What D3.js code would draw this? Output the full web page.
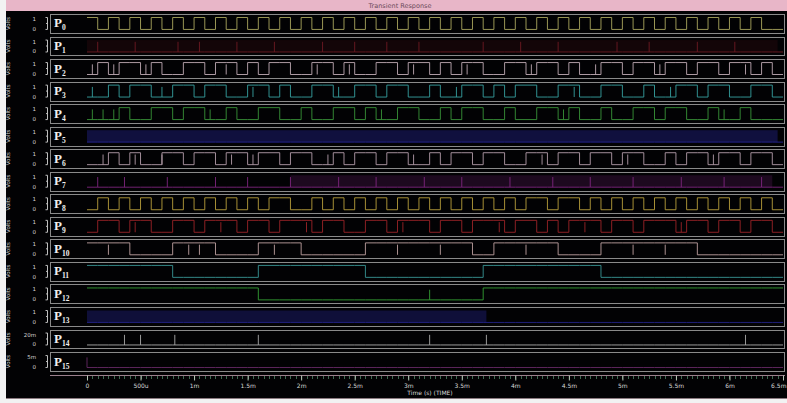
<!DOCTYPE html>
<html>
<head>
<meta charset="utf-8">
<script src="https://cdn.jsdelivr.net/npm/d3@7"></script>
<style>
html, body { margin: 0; padding: 0; background: #f2f2f2; }
svg { display: block; }
</style>
</head>
<body>
<svg id="plot" width="787" height="403"></svg>
<script>

// Time axis, in ms.
const TIME_TICKS = [0, 0.5, 1, 1.5, 2, 2.5, 3, 3.5, 4, 4.5, 5, 5.5, 6, 6.5];
const TICK_LABELS = ["0", "500u", "1m", "1.5m", "2m", "2.5m", "3m", "3.5m", "4m", "4.5m", "5m", "5.5m", "6m", "6.5m"];

// Traces.
const NAMES = ["P0", "P1", "P2", "P3", "P4", "P5", "P6", "P7",
               "P8", "P9", "P10", "P11", "P12", "P13", "P14", "P15"];
const COLORS = ["#aaa65e", "#6e1a22", "#bfaab4", "#36a0a0", "#389438", "#262696", "#b49caa", "#7e267e",
                "#b89e3c", "#9c2428", "#bea0a0", "#389696", "#34a034", "#22228a", "#aaaaaa", "#642864"];
const Y_TOP = ["1", "1", "1", "1", "1", "1", "1", "1", "1", "1", "1", "1", "1", "1", "20m", "5m"];
const Y_BOT = ["0", "0", "0", "0", "0", "0", "0", "0", "0", "0", "0", "0", "0", "0", "0", "0"];

// Logic level per 0.1 ms slot (grouped by 0.5 ms).
const p0  = "10101 01010 10101 01010 10101 01010 10101 01010 10101 01010 10101 01010 10100";
const p1  = "00000 00000 00000 00000 00000 00000 00000 00000 00000 00000 00000 00000 00000";
const p2  = "01011 01001 10110 10110 01101 00110 11010 11001 10110 10011 01101 10110 11010";
const p3  = "00101 10011 01100 11010 01100 11011 00100 11010 11001 10011 00100 11011 00110";
const p4  = "00010 01101 10010 01100 10011 01001 10010 11001 00110 10010 01101 10010 01000";
const p5  = "00000 00000 00000 00000 00000 00000 00000 00000 00000 00000 00000 00000 00000";
const p6  = "00101 00110 11011 01101 10010 11011 00101 10110 01101 10110 11001 01101 10110";
const p7  = "00000 00000 00000 00000 00000 00000 00000 00000 00000 00000 00000 00000 00000";
const p8  = "01010 10101 01010 10110 01010 10101 01010 10101 01101 10101 01010 10101 01010";
const p9  = "01101 10011 01110 11011 10110 01101 11011 01110 11010 11101 10111 01101 10110";
const p10 = "11110 00011 11000 01111 00000 01111 11111 10011 11110 00011 11111 11000 00000";
const p11 = "11111 11100 00000 01111 11111 10000 00000 00111 11111 11100 00000 00000 00000";
const p12 = "11111 11111 11111 10000 00000 00000 00000 00111 11111 11111 11111 11111 11111";
const p13 = "00000 00000 00000 00000 00000 00000 00000 00000 00000 00000 00000 00000 00000";
const p14 = "00000 00000 00000 00000 00000 00000 00000 00000 00000 00000 00000 00000 00000";
const p15 = "00000 00000 00000 00000 00000 00000 00000 00000 00000 00000 00000 00000 00000";
const LEVELS = [p0, p1, p2, p3, p4, p5, p6, p7, p8, p9, p10, p11, p12, p13, p14, p15];

// Narrow glitches, in ms.
const p1Spikes  = [0.1, 0.45, 0.85, 1.05, 1.4, 1.75, 2.2, 2.5, 2.8, 3.1, 3.7, 4.05, 4.4, 4.95, 5.25, 5.7, 6.05];
const p2Spikes  = [0.05, 0.25, 0.55, 1.3, 2.15, 2.45, 3.05, 3.55, 4.15, 4.75, 5.35, 6.15];
const p3Spikes  = [0.05, 0.7, 1.55, 2.35, 3.45, 4.55, 5.45];
const p4Spikes  = [0.05, 0.15, 0.25, 1.15, 2.75, 4.45, 5.95];
const p6Spikes  = [0.15, 0.45, 0.7, 1.35, 1.55, 2.25, 3.05, 4.25, 5.05, 5.85];
const p7Spikes  = [0.1, 0.35, 0.75, 1.2, 1.5, 1.9, 2.35, 2.7, 3.15, 3.5, 3.95, 4.35, 4.7, 5.1, 5.55, 5.95, 6.3];
const p9Spikes  = [0.45, 1.25, 2.05, 2.95, 3.85, 4.65, 5.55];
const p10Spikes = [0.2, 0.95, 1.05, 1.75, 2.9, 3.3, 4.1, 5.1, 5.4];
const p12Spikes = [3.2];
const p14Spikes = [0.35, 0.5, 0.82, 1.6, 3.2, 3.73, 6.15];
const p15Spikes = [0.0];
const SPIKES = [[], p1Spikes, p2Spikes, p3Spikes, p4Spikes, [], p6Spikes, p7Spikes,
                [], p9Spikes, p10Spikes, [], p12Spikes, [], p14Spikes, p15Spikes];

// Spans where the trace toggles too fast to resolve, in ms.
const p1Band  = [[0, 6.45]];
const p5Band  = [[0, 6.45]];
const p7Band  = [[1.9, 6.4]];
const p13Band = [[0, 3.73]];
const BANDS = [[], p1Band, [], [], [], p5Band, [], p7Band,
               [], [], [], [], [], p13Band, [], []];
const BAND_OPACITY = [0, 0.16, 0, 0, 0, 0.4, 0, 0.22, 0, 0, 0, 0, 0, 0.4, 0, 0];

//----------------------------------------------------------------------------//

const svg = d3.select("#plot");
const W = 787, H = 403;

// Page frame: white edge, pink title bar, black plot field.
svg.append("rect").attr("width", W).attr("height", H).attr("fill", "#f2f2f2");
svg.append("rect").attr("x", 6).attr("y", 0).attr("width", W - 6).attr("height", 11).attr("fill", "#e8b6c8");
svg.append("rect").attr("x", 6).attr("y", 11).attr("width", W - 6).attr("height", 387).attr("fill", "#020204");
svg.append("line").attr("x1", 6).attr("x2", W).attr("y1", 398.5).attr("y2", 398.5).attr("stroke", "#8a7a80");

svg.append("text")
    .text("Transient Response")
    .attr("x", 400).attr("y", 8)
    .attr("text-anchor", "middle")
    .attr("font-family", "DejaVu Sans")
    .attr("font-size", 6.5)
    .attr("fill", "#6a4a5a");

// Scales.
const x = d3.scaleLinear().domain([0, 6.5]).range([87, 783]);
const row = d3.scaleBand().domain(NAMES).range([14, 371]).paddingInner(0.16);
const bw = row.bandwidth();
const level = d3.scaleLinear().domain([0, 1]).range([bw - 3.5, 3.5]);

const line = d3.line()
    .x(d => x(d[0]))
    .y(d => level(d[1]))
    .curve(d3.curveStepAfter);

function toPoints(str) {
    const bits = str.replace(/ /g, "").split("").map(Number);
    const pts = bits.map((b, i) => [i * 0.1, b]);
    pts.push([bits.length * 0.1, bits[bits.length - 1]]);
    return pts;
}

const traces = NAMES.map((name, i) => ({
    name: name,
    color: COLORS[i],
    points: toPoints(LEVELS[i]),
    spikes: SPIKES[i],
    bands: BANDS[i],
    bandOpacity: BAND_OPACITY[i],
    yTop: Y_TOP[i],
    yBot: Y_BOT[i],
}));

const rows = svg.selectAll("g.trace")
    .data(traces)
    .join("g")
        .attr("class", "trace")
        .attr("transform", d => `translate(0, ${row(d.name)})`);

// Frame of each trace.
rows.append("rect")
    .attr("x", 50.5).attr("y", 0.5)
    .attr("width", 734).attr("height", bw)
    .attr("fill", "#020204")
    .attr("stroke", "#8a8a8a")
    .attr("stroke-width", 1)
    .attr("shape-rendering", "crispEdges");

// Left axis: unit, values, bracket.
rows.append("text")
    .text("Volts")
    .attr("transform", `translate(10, ${bw / 2}) rotate(-90)`)
    .attr("text-anchor", "middle")
    .attr("font-family", "DejaVu Sans")
    .attr("font-size", 5.5)
    .attr("fill", "#d4d4d4");

rows.append("text")
    .text(d => d.yTop)
    .attr("x", 36).attr("y", 7)
    .attr("text-anchor", "end")
    .attr("font-family", "DejaVu Sans")
    .attr("font-size", 5.5)
    .attr("fill", "#d4d4d4");

rows.append("text")
    .text(d => d.yBot)
    .attr("x", 36).attr("y", bw - 2)
    .attr("text-anchor", "end")
    .attr("font-family", "DejaVu Sans")
    .attr("font-size", 5.5)
    .attr("fill", "#d4d4d4");

rows.append("path")
    .attr("d", `M47.5,${level(1)}H45.5M47.5,${level(1)}V${level(0)}H45.5M47.5,${bw / 2}H46`)
    .attr("fill", "none")
    .attr("stroke", "#bdbdbd")
    .attr("stroke-width", 1);

// Trace name with subscript.
const label = rows.append("text")
    .attr("x", 54).attr("y", bw / 2 + 4)
    .attr("font-family", "Liberation Serif")
    .attr("font-weight", "bold")
    .attr("fill", "#f0f0f0");
label.append("tspan").text("P").attr("font-size", 13);
label.append("tspan").text(d => d.name.slice(1)).attr("font-size", 7.5).attr("dy", 3);

// Unresolved fast toggling.
rows.selectAll("rect.band")
    .data(d => d.bands.map(b => ({ b: b, color: d.color, op: d.bandOpacity })))
    .join("rect")
        .attr("class", "band")
        .attr("x", d => x(d.b[0]))
        .attr("width", d => x(d.b[1]) - x(d.b[0]))
        .attr("y", level(1))
        .attr("height", level(0) - level(1))
        .attr("fill", d => d.color)
        .attr("fill-opacity", d => d.op);

// Logic levels.
rows.append("path")
    .attr("d", d => line(d.points))
    .attr("fill", "none")
    .attr("stroke", d => d.color)
    .attr("stroke-opacity", 0.9)
    .attr("stroke-width", 1);

// Glitches.
rows.selectAll("line.spike")
    .data(d => d.spikes.map(t => ({ t: t, color: d.color })))
    .join("line")
        .attr("class", "spike")
        .attr("x1", d => x(d.t)).attr("x2", d => x(d.t))
        .attr("y1", level(0)).attr("y2", level(0.85))
        .attr("stroke", d => d.color)
        .attr("stroke-opacity", 0.9)
        .attr("stroke-width", 1);

// Time axis.
const axisY = 375;

svg.append("line")
    .attr("x1", 50).attr("x2", 785)
    .attr("y1", axisY + 0.5).attr("y2", axisY + 0.5)
    .attr("stroke", "#9a7f8c");

svg.append("g")
    .attr("transform", `translate(0, ${axisY + 1})`)
    .selectAll("line")
    .data(x.ticks(130))
    .join("line")
        .attr("x1", d => Math.round(x(d)) + 0.5).attr("x2", d => Math.round(x(d)) + 0.5)
        .attr("y1", 0).attr("y2", 3)
        .attr("stroke", "#3f6a52");

const xAxis = d3.axisBottom(x)
    .tickValues(TIME_TICKS)
    .tickFormat((d, i) => TICK_LABELS[i])
    .tickSize(5)
    .tickPadding(3);

const xAx = svg.append("g")
    .attr("transform", `translate(0, ${axisY + 0.5})`)
    .call(xAxis);

xAx.select(".domain").remove();
xAx.selectAll(".tick line").attr("stroke", "#b8c8b8");
xAx.selectAll(".tick text")
    .attr("fill", "#d8d8d8")
    .attr("font-family", "DejaVu Sans")
    .attr("font-size", 6);

// Keep the last label inside the window.
xAx.selectAll(".tick:last-of-type text")
    .attr("text-anchor", "end")
    .attr("x", 3);

svg.append("text")
    .text("Time (s) (TIME)")
    .attr("x", 430).attr("y", 395)
    .attr("text-anchor", "middle")
    .attr("font-family", "DejaVu Sans")
    .attr("font-size", 6)
    .attr("fill", "#d8d8d8");

</script>
</body>
</html>
